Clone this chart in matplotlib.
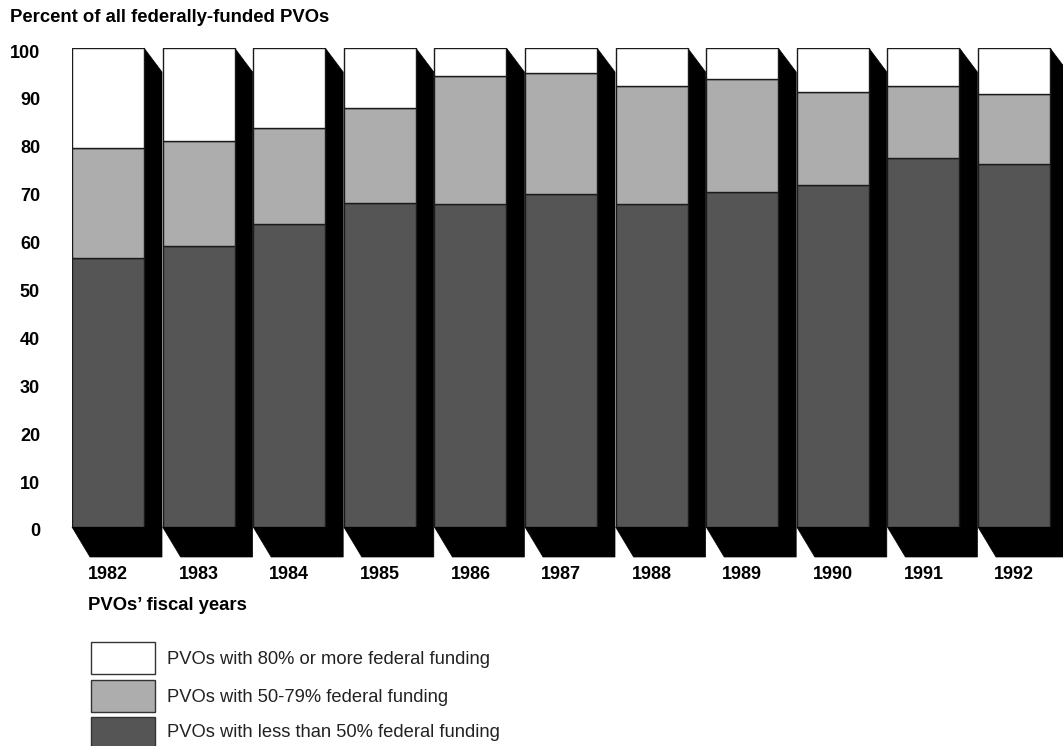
import matplotlib
matplotlib.use('Agg')
import matplotlib.pyplot as plt
from matplotlib.patches import Polygon, Rectangle
from matplotlib.transforms import ScaledTranslation

plt.rcParams['font.family'] = ['Liberation Sans', 'DejaVu Sans']

anyos = ['1982', '1983', '1984', '1985', '1986', '1987', '1988', '1989', '1990', '1991', '1992']
menos_50 = [56.2, 58.7, 63.3, 67.7, 67.4, 69.5, 67.5, 70.0, 71.4, 77.1, 75.7]
entre_50_79 = [23.0, 21.9, 19.9, 19.8, 26.8, 25.2, 24.6, 23.5, 19.5, 15.0, 14.8]
mas_80 = [20.8, 19.4, 16.8, 12.5, 5.8, 5.3, 7.9, 6.5, 9.1, 7.9, 9.5]

etiquetas = ['PVOs with 80% or more federal funding',
             'PVOs with 50-79% federal funding',
             'PVOs with less than 50% federal funding']
colores = ['#ffffff', '#adadad', '#555555']

W, H = 1063, 746

def fx(px):
    return px / W

def fy(py):
    return 1 - py / H

fig = plt.figure(figsize=(W / 100, H / 100), dpi=100)
ax = fig.add_axes([fx(72), fy(527), fx(1063) - fx(72), fy(48) - fy(527)])

paso = 90.6
ancho = 72 / paso
ax.set_xlim(-ancho / 2, -ancho / 2 + (W - 72) / paso)
ax.set_ylim(0, 100)

# sombra negra "3D" detras de cada barra
dx = 18 / paso
dy_sup = 24 / 4.79
dy_inf = 30 / 4.79
for i in range(len(anyos)):
    l = i - ancho / 2
    r = i + ancho / 2
    sombra = Polygon([(l, 0), (l + dx, -dy_inf), (r + dx, -dy_inf),
                      (r + dx, 100 - dy_sup), (r, 100), (r, 0)],
                     closed=True, facecolor='black', edgecolor='black',
                     lw=0.5, zorder=1, clip_on=False)
    ax.add_patch(sombra)

x = list(range(len(anyos)))
base2 = menos_50
base3 = [a + b for a, b in zip(menos_50, entre_50_79)]
ax.bar(x, menos_50, width=ancho, color=colores[2], edgecolor='#1a1a1a', lw=1, zorder=2)
ax.bar(x, entre_50_79, bottom=base2, width=ancho, color=colores[1], edgecolor='#1a1a1a', lw=1, zorder=2)
ax.bar(x, mas_80, bottom=base3, width=ancho, color=colores[0], edgecolor='#1a1a1a', lw=1, zorder=2)

for s in ax.spines.values():
    s.set_visible(False)
ax.set_yticks(range(0, 101, 10))
ax.set_yticklabels([str(v) for v in range(0, 101, 10)], fontweight='bold', fontsize=13)
ax.set_xticks(x)
ax.set_xticklabels(anyos, fontweight='bold', fontsize=13)
ax.tick_params(axis='y', length=0, pad=23)
ax.tick_params(axis='x', length=0, pad=28)
bajar = ScaledTranslation(0, -3 / 100, fig.dpi_scale_trans)
for t in ax.get_yticklabels():
    t.set_transform(t.get_transform() + bajar)

fig.text(fx(10), fy(17), 'Percent of all federally-funded PVOs', fontweight='bold',
         fontsize=13.3, va='center', ha='left')
fig.text(fx(88), fy(605), 'PVOs\u2019 fiscal years', fontweight='bold',
         fontsize=13.3, va='center', ha='left')

# leyenda
cajas = [(642, 674), (680, 712), (717, 750)]
for (y0, y1), c, t in zip(cajas, colores, etiquetas):
    fig.patches.append(Rectangle((fx(91), fy(y1)), fx(155) - fx(91), fy(y0) - fy(y1),
                                 transform=fig.transFigure, facecolor=c,
                                 edgecolor='#333333', lw=1))
    fig.text(fx(167), fy((y0 + min(y1, 746)) / 2 + 1), t, fontsize=13.2,
             va='center', ha='left', color='#222222')

fig.savefig('out.png', dpi=100)
